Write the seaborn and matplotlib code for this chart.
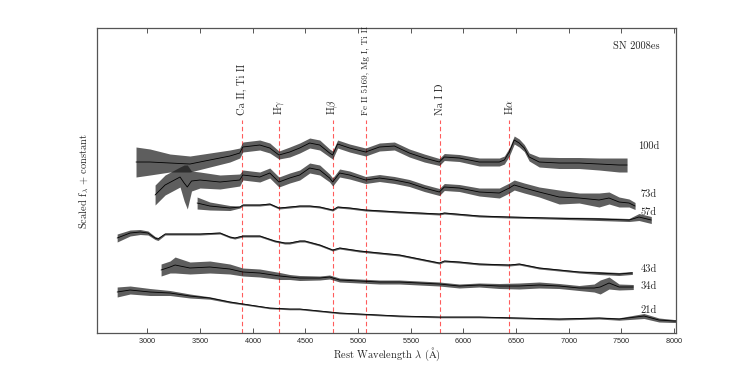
"""
SN 2008es spectral sequence (scaled flux + constant vs rest wavelength)
"""

import numpy as np
import pandas as pd
import matplotlib
matplotlib.use("Agg")
import matplotlib.pyplot as plt
import seaborn as sns

# --- Spectra (flux already includes offset) ---
# noise_* = half-width of the noisy band around the mean flux
wl_100d = [2893, 3026, 3215, 3405, 3594, 3784, 3878, 3907, 4068, 4163, 4250, 4352, 4447, 4542,
           4637, 4731, 4760, 4807, 4921, 5072, 5204, 5346, 5488, 5630, 5773, 5820, 5962, 6152,
           6342, 6390, 6437, 6484, 6531, 6579, 6626, 6721, 6910, 7100, 7289, 7479, 7555]
flux_100d = [17.1, 17.1, 17.0, 16.9, 17.3, 17.7, 18.0, 18.6, 18.8, 18.5, 17.8, 18.1, 18.5, 19.0,
             18.8, 18.0, 17.8, 18.9, 18.5, 18.1, 18.6, 18.7, 18.0, 17.5, 17.1, 17.6, 17.5, 17.1,
             17.1, 17.3, 18.1, 19.3, 19.0, 18.5, 17.6, 17.1, 17.0, 17.0, 16.9, 16.8, 16.8]
noise_100d = [1.5, 1.3, 0.9, 0.8, 0.7, 0.6, 0.5, 0.5, 0.5, 0.5, 0.4, 0.5, 0.5, 0.5,
              0.5, 0.4, 0.4, 0.4, 0.4, 0.4, 0.4, 0.4, 0.4, 0.4, 0.35, 0.35, 0.35, 0.4,
              0.4, 0.4, 0.4, 0.4, 0.4, 0.35, 0.4, 0.5, 0.55, 0.55, 0.6, 0.7, 0.7]

wl_73d = [3074, 3169, 3311, 3350, 3380, 3420, 3500, 3690, 3878, 3907, 4068, 4163, 4250, 4352,
          4447, 4542, 4637, 4731, 4760, 4826, 4921, 5072, 5204, 5346, 5488, 5630, 5773, 5820,
          5962, 6152, 6342, 6437, 6484, 6579, 6721, 6910, 7100, 7289, 7384, 7479, 7574, 7631]
flux_73d = [13.8, 14.8, 15.6, 15.0, 14.6, 15.2, 15.3, 15.1, 15.3, 15.8, 15.6, 16.0, 15.1, 15.5,
            15.8, 16.5, 16.3, 15.5, 15.1, 16.0, 15.8, 15.3, 15.5, 15.3, 15.0, 14.5, 14.1, 14.6,
            14.5, 14.1, 14.0, 14.5, 14.8, 14.5, 14.1, 13.6, 13.5, 13.3, 13.5, 13.1, 13.0, 12.7]
noise_73d = [1.0, 1.0, 1.0, 1.8, 2.2, 1.0, 0.8, 0.7, 0.6, 0.5, 0.5, 0.5, 0.5, 0.5,
             0.5, 0.5, 0.5, 0.4, 0.4, 0.4, 0.4, 0.35, 0.35, 0.35, 0.35, 0.35, 0.35, 0.35,
             0.35, 0.4, 0.5, 0.5, 0.5, 0.5, 0.5, 0.7, 0.5, 0.7, 0.6, 0.5, 0.4, 0.35]

wl_57d = [3473, 3594, 3784, 3880, 3907, 4068, 4163, 4250, 4352, 4447, 4542, 4637, 4760, 4807,
          4921, 5072, 5394, 5773, 5820, 6152, 6437, 6816, 7289, 7574, 7668, 7785]
flux_57d = [13.0, 12.7, 12.5, 12.6, 12.8, 12.8, 12.9, 12.5, 12.6, 12.7, 12.7, 12.6, 12.3, 12.6,
            12.5, 12.3, 12.1, 11.9, 12.0, 11.7, 11.6, 11.5, 11.4, 11.3, 11.6, 11.3]
noise_57d = [0.6, 0.4, 0.25, 0.1, 0.1, 0.1, 0.1, 0.1, 0.1, 0.1, 0.1, 0.1, 0.1, 0.1,
             0.1, 0.1, 0.1, 0.1, 0.1, 0.1, 0.1, 0.1, 0.15, 0.15, 0.35, 0.35]

wl_43d = [2714, 2837, 2932, 3007, 3074, 3102, 3169, 3311, 3500, 3690, 3784, 3831, 3907, 4068,
          4210, 4305, 4352, 4447, 4494, 4637, 4760, 4826, 5015, 5204, 5394, 5583, 5773, 5820,
          5962, 6152, 6437, 6531, 6721, 6910, 7100, 7289, 7479, 7593, 7605]
flux_43d = [9.5, 10.0, 10.1, 10.0, 9.5, 9.4, 9.9, 9.9, 9.9, 10.0, 9.6, 9.5, 9.7, 9.7,
            9.2, 9.0, 9.0, 9.2, 9.2, 8.8, 8.3, 8.5, 8.2, 8.0, 7.8, 7.4, 7.0, 7.2,
            7.1, 6.9, 6.8, 6.9, 6.5, 6.3, 6.1, 6.0, 5.9, 6.0, 6.0]
noise_43d = [0.4, 0.3, 0.25, 0.2, 0.15, 0.15, 0.1, 0.1, 0.1, 0.1, 0.1, 0.1, 0.1, 0.1,
             0.1, 0.1, 0.1, 0.1, 0.1, 0.1, 0.1, 0.1, 0.1, 0.1, 0.1, 0.1, 0.1, 0.1,
             0.1, 0.1, 0.1, 0.1, 0.1, 0.1, 0.1, 0.15, 0.15, 0.15, 0.15]

wl_34d = [3131, 3216, 3264, 3405, 3594, 3784, 3907, 4068, 4258, 4352, 4447, 4637, 4731, 4826,
          5015, 5204, 5394, 5583, 5773, 5962, 6152, 6342, 6531, 6721, 6910, 7100, 7242, 7300,
          7384, 7479, 7614]
flux_34d = [6.3, 6.6, 6.8, 6.5, 6.6, 6.4, 6.1, 6.0, 5.7, 5.6, 5.5, 5.5, 5.6, 5.3,
            5.2, 5.1, 5.1, 5.0, 4.9, 4.7, 4.8, 4.7, 4.7, 4.8, 4.7, 4.5, 4.5, 4.6,
            5.0, 4.6, 4.6]
noise_34d = [0.6, 0.6, 0.8, 0.6, 0.6, 0.5, 0.4, 0.4, 0.35, 0.25, 0.25, 0.2, 0.2, 0.2,
             0.2, 0.2, 0.2, 0.2, 0.2, 0.2, 0.2, 0.25, 0.3, 0.3, 0.25, 0.25, 0.4, 0.7,
             0.6, 0.3, 0.25]

wl_21d = [2714, 2837, 3026, 3216, 3405, 3594, 3784, 3973, 4163, 4352, 4447, 4637, 4826, 5015,
          5394, 5773, 6152, 6531, 6910, 7289, 7479, 7716, 7858, 8000, 8020]
flux_21d = [4.1, 4.3, 4.1, 4.0, 3.7, 3.5, 3.1, 2.8, 2.5, 2.4, 2.4, 2.2, 2.0, 1.9,
            1.7, 1.6, 1.6, 1.5, 1.4, 1.5, 1.4, 1.7, 1.3, 1.2, 1.2]
noise_21d = [0.5, 0.4, 0.35, 0.25, 0.2, 0.12, 0.1, 0.08, 0.08, 0.08, 0.08, 0.08, 0.08, 0.08,
             0.08, 0.08, 0.08, 0.08, 0.1, 0.1, 0.12, 0.25, 0.2, 0.15, 0.15]

epochs = ["100d", "73d", "57d", "43d", "34d", "21d"]
epoch_label_y = [18.7, 13.9, 12.1, 6.4, 4.7, 2.3]

# --- Line identifications ---
line_names = ["Ca II, Ti II", r"H$\gamma$", r"H$\beta$", "Fe II 5169, Mg I, Ti II",
              "Na I D", r"H$\alpha$"]
line_wl = [3900, 4250, 4760, 5075, 5780, 6430]


def main():
    sns.set_theme(style="ticks")
    plt.rcParams["font.family"] = ["cmr10", "DejaVu Serif"]
    plt.rcParams["mathtext.fontset"] = "cm"
    plt.rcParams["axes.formatter.use_mathtext"] = True

    spectra = [
        (wl_100d, flux_100d, noise_100d),
        (wl_73d, flux_73d, noise_73d),
        (wl_57d, flux_57d, noise_57d),
        (wl_43d, flux_43d, noise_43d),
        (wl_34d, flux_34d, noise_34d),
        (wl_21d, flux_21d, noise_21d),
    ]

    fig = plt.figure(figsize=(7.47, 3.74), dpi=100)
    ax = fig.add_axes([0.1299, 0.1096, 0.7751, 0.8155])

    for (wl, fl, nz), ep in zip(spectra, epochs):
        wl = np.array(wl, dtype=float)
        fl = np.array(fl)
        nz = np.array(nz)
        # noisy band + mean spectrum
        ax.fill_between(wl, fl - nz, fl + nz, color="#1a1a1a", alpha=0.7, lw=0)
        df = pd.DataFrame({"wavelength": wl, "flux": fl})
        sns.lineplot(data=df, x="wavelength", y="flux", color="black", lw=0.6,
                     estimator=None, sort=False, ax=ax)

    # dashed line markers
    for name, lw_ in zip(line_names, line_wl):
        ax.plot([lw_, lw_], [0, 21.3], ls=(0, (4, 2.5)), color="#ff5c5c", lw=0.8, zorder=0)
        fs = 6.5 if name.startswith("Fe") else 7.5
        ax.text(lw_, 21.8, name, rotation=90, ha="center", va="bottom", fontsize=fs)

    for ep, y in zip(epochs, epoch_label_y):
        ax.text(7760, y, ep, ha="center", va="center", fontsize=7.5)
    ax.text(7642, 28.7, "SN 2008es", ha="center", va="center", fontsize=7.5)

    ax.set_xlim(2523, 8020)
    ax.set_ylim(0, 30.5)
    ax.set_xticks(range(3000, 8001, 500))
    ax.set_yticks([])
    ax.tick_params(axis="x", direction="in", top=True, length=3.5, width=0.7,
                   color="#555555", pad=2, labelsize=5.3)
    for lab in ax.get_xticklabels():
        lab.set_fontfamily("Liberation Sans")
    for sp in ax.spines.values():
        sp.set_color("#555555")
        sp.set_linewidth(0.9)

    ax.set_xlabel(r"Rest Wavelength $\lambda$ ($\mathrm{\AA}$)", fontsize=7.5, labelpad=1)
    ax.set_ylabel(r"Scaled f$_\lambda$ + constant", fontsize=7.5, labelpad=4)

    fig.savefig("out.png", dpi=100)
    plt.close(fig)


if __name__ == "__main__":
    main()
